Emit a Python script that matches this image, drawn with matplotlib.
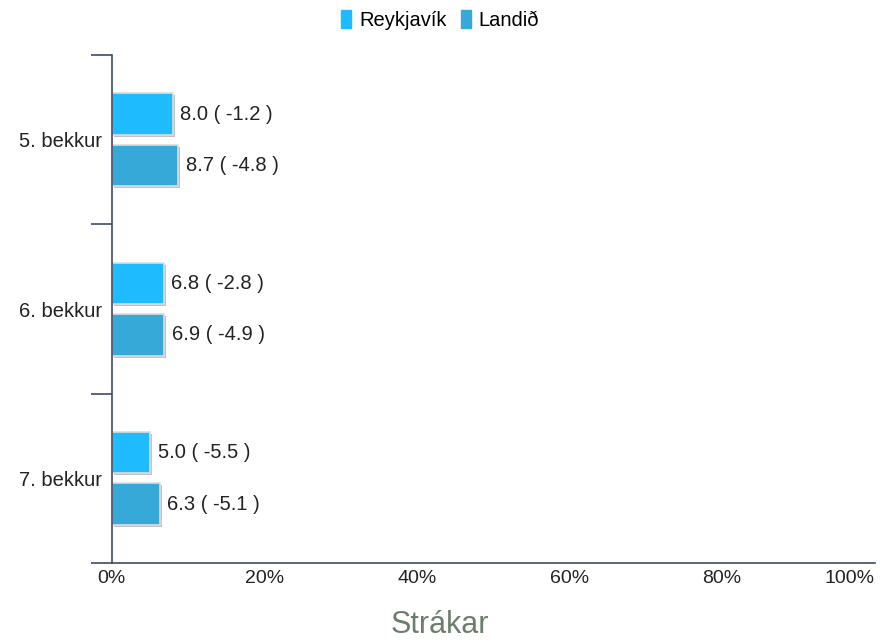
import numpy as np
import matplotlib.pyplot as plt
import matplotlib.patheffects as pe

plt.rcParams['font.family'] = ['Liberation Sans', 'DejaVu Sans']

categories = ['5. bekkur', '6. bekkur', '7. bekkur']
reykjavik = [8.0, 6.8, 5.0]
reykjavik_diff = [-1.2, -2.8, -5.5]
landid = [8.7, 6.9, 6.3]
landid_diff = [-4.8, -4.9, -5.1]
series_names = ['Reykjavík', 'Landið']
colors = ['#1EBCFF', '#36A9D8']
xticks = [0, 20, 40, 60, 80, 100]

fig = plt.figure(figsize=(8.8, 6.42), dpi=100)
ax = fig.add_axes([0.127, 0.123, 0.867, 0.791])

y = np.arange(len(categories))
h = 0.245
shadow = [pe.SimplePatchShadow(offset=(1.5, -1.5), shadow_rgbFace='#999999', alpha=0.6), pe.Normal()]
for vals, diffs, off, col in [(reykjavik, reykjavik_diff, -0.152, colors[0]),
                              (landid, landid_diff, 0.152, colors[1])]:
    bars = ax.barh(y + off, vals, height=h, color=col, edgecolor='#dddddd', linewidth=1.2)
    for b in bars:
        b.set_path_effects(shadow)
    for yy, v, d in zip(y + off, vals, diffs):
        ax.text(v + 1.0, yy, f'{v:.1f} ( {d:.1f} )', va='center', ha='left', fontsize=14.5, color='#222222')

ax.set_xlim(0, 100)
ax.set_ylim(2.5, -0.5)
ax.set_xticks(xticks)
ax.set_xticklabels([f'{t}%' for t in xticks], fontsize=14, color='#222222')
ax.tick_params(axis='x', length=0, pad=5)
lbls = ax.get_xticklabels()
lbls[-1].set_ha('right')
lbls[-1].set_x(100)

ax.set_yticks([-0.5, 0.5, 1.5, 2.5])
ax.set_yticklabels([])
ax.set_yticks(y, minor=True)
ax.set_yticklabels(categories, minor=True, fontsize=14.5, color='#222222')
ax.tick_params(axis='y', which='major', length=15, color='#3d4a6b', width=1.2)
ax.tick_params(axis='y', which='minor', length=0, pad=7)

for s in ['top', 'right']:
    ax.spines[s].set_visible(False)
for s in ['left', 'bottom']:
    ax.spines[s].set_color('#3d4a6b')
    ax.spines[s].set_linewidth(1.2)

handles = [plt.Rectangle((0, 0), 1, 1, color=c) for c in colors]
fig.legend(handles, series_names, loc='upper center', bbox_to_anchor=(0.5, 1.012), ncol=2,
           frameon=False, fontsize=14.5, handlelength=0.5, handleheight=1.0,
           handletextpad=0.4, columnspacing=0.7)

fig.text(0.5, 0.003, 'Strákar', ha='center', va='bottom', fontsize=22, color='#6b7d6c')

fig.savefig('out.png', dpi=100)
